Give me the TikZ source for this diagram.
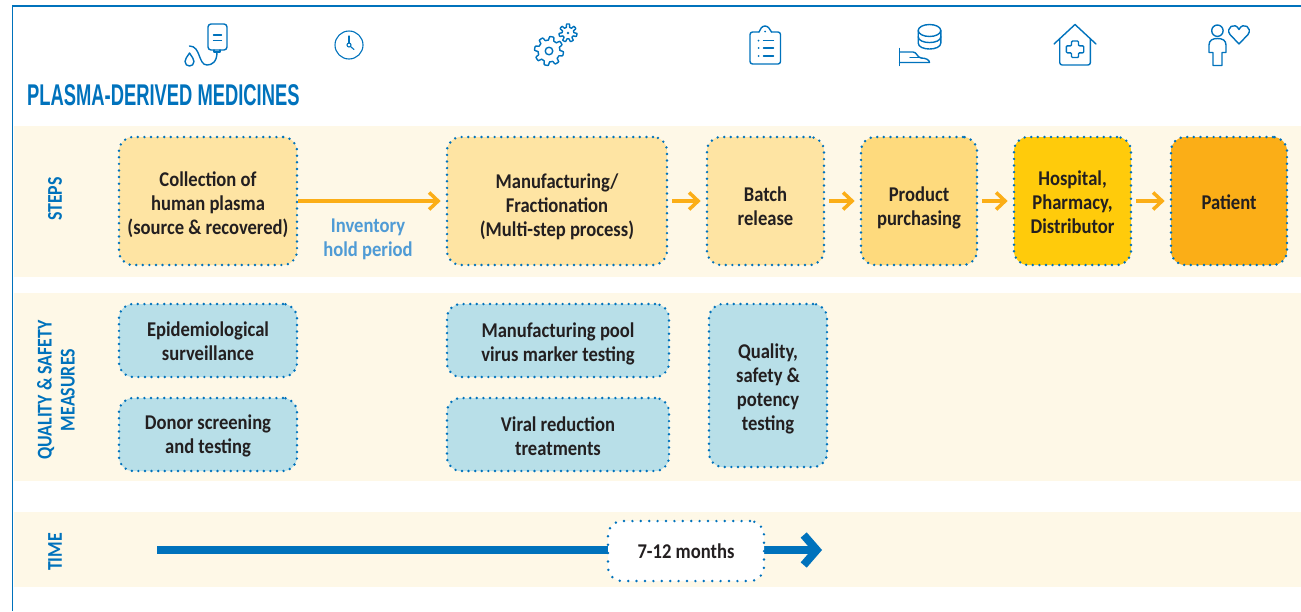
\documentclass[tikz,border=0pt]{standalone}
\usepackage{fontspec}
\setmainfont[FakeStretch=0.885]{Carlito}
\newfontfamily\titlefont[FakeStretch=0.612]{Liberation Sans}
\newfontfamily\sidefont[FakeStretch=0.85]{Carlito}
\usetikzlibrary{arrows.meta,positioning}
\definecolor{bandcol}{HTML}{FEF8E7}
\definecolor{linecol}{HTML}{0072BC}
\definecolor{textcol}{HTML}{231F20}
\definecolor{holdcol}{HTML}{4F9BD5}
\definecolor{flowcol}{HTML}{FBAE17}
\definecolor{palecol}{HTML}{FEE4A3}
\definecolor{midcol}{HTML}{FEDA7D}
\definecolor{goldcol}{HTML}{FFCB0B}
\definecolor{qualcol}{HTML}{B8DFE8}
\newcommand{\textdrop}[1]{\rule{0pt}{\numexpr14+2*#1\relax pt}}

\begin{document}
\begin{tikzpicture}[x=1pt,y=-1pt,
    dotbox/.style={draw=linecol, line width=2.7pt, dash pattern=on 0pt off 6.6pt, line cap=round,
        rounded corners=14pt, align=center, text=textcol, inner sep=0pt,
        font=\bfseries\fontsize{21}{24}\selectfont},
    stepbox/.style={dotbox, minimum height=128pt},
    qualbox/.style={dotbox, fill=qualcol},
    flowline/.style={draw=flowcol, line width=3.5pt, -{Straight Barb[length=9pt,width=17pt]}, shorten >=5pt, shorten <=4pt},
    sidelabel/.style={rotate=90, text=linecol, align=center, font=\sidefont\bfseries\fontsize{21}{23}\selectfont},
    icon/.style={draw=linecol, line width=1.4pt, line join=round, line cap=round}]
    \useasboundingbox (0,0) rectangle (1301,611);

    % Frame
    \draw[linecol, line width=1.4pt] (12.5,611) -- (12.5,6) -- (1301,6);

    % Bands
    \fill[bandcol] (13.5,126) rectangle (1301,277);
    \fill[bandcol] (13.5,293) rectangle (1301,481);
    \fill[bandcol] (13.5,512) rectangle (1301,587);

    % Title
    \node[anchor=base west, inner sep=0pt, text=linecol, font=\titlefont\bfseries\fontsize{30}{32}\selectfont] (title) at (27,105.5) {PLASMA-DERIVED MEDICINES};

    % Side labels
    \node[sidelabel] (steps) at (55,199) {STEPS};
    \node[sidelabel] (measures) at (56,390) {QUALITY \& SAFETY\\MEASURES};
    \node[sidelabel] (timelabel) at (55,552) {TIME};

    % Steps
    \node[stepbox, fill=palecol, minimum width=178pt] (collect) at (208,201) {\textdrop{4}Collection of\\human plasma\\(source \& recovered)};
    \node[stepbox, fill=palecol, minimum width=220pt] (manuf) at (557,201) {\textdrop{6}Manufacturing/\\Fractionation\\(Multi-step process)};
    \node[stepbox, fill=palecol, minimum width=117pt] (batch) at (765.5,201) {\textdrop{6}Batch\\release};
    \node[stepbox, fill=midcol, minimum width=116pt] (purchase) at (919,201) {\textdrop{7}Product\\purchasing};
    \node[stepbox, fill=goldcol, minimum width=117pt] (hospital) at (1072.5,201) {\textdrop{2}Hospital,\\Pharmacy,\\Distributor};
    \node[stepbox, fill=flowcol, minimum width=116pt] (patient) at (1229,201) {\textdrop{2}Patient};

    \draw[flowline, shorten <=0pt] (collect) -- (manuf);
    \draw[flowline] (manuf) -- (batch);
    \draw[flowline] (batch) -- (purchase);
    \draw[flowline] (purchase) -- (hospital);
    \draw[flowline] (hospital) -- (patient);

    \node[text=holdcol, align=center, inner sep=0pt, font=\bfseries\fontsize{21}{24}\selectfont] (hold) at (368,239) {Inventory\\hold period};

    % Quality and safety
    \node[qualbox, minimum width=178pt, minimum height=73pt] (epi) at (208,340.5) {\textdrop{1}Epidemiological\\surveillance};
    \node[qualbox, minimum width=178pt, minimum height=73pt] (donor) at (208,434.5) {\textdrop{2}Donor screening\\and testing};
    \node[qualbox, minimum width=222pt, minimum height=73pt] (pool) at (558,340.5) {\textdrop{4}Manufacturing pool\\virus marker testing};
    \node[qualbox, minimum width=222pt, minimum height=73pt] (viral) at (558,434.5) {\textdrop{2}Viral reduction\\treatments};
    \node[qualbox, minimum width=118pt, minimum height=163pt] (quality) at (768,385.5) {\textdrop{4}Quality,\\safety \&\\potency\\testing};

    % Time
    \coordinate (timestart) at (157,550);
    \coordinate (timeend) at (822,550);
    \draw[linecol, line width=8pt, -{Straight Barb[length=13pt,width=30pt]}] (timestart) -- (timeend);
    \node[dotbox, dash pattern=on 0pt off 8.4pt, fill=white, minimum width=156pt, minimum height=60pt] (months) at (686,551) {\textdrop{1}7-12 months};

    % Icons
    % Plasma bag
    \draw[icon, rounded corners=3pt] (208,24) rectangle (227,50);
    \draw[icon] (214,50) -- (214,52) -- (220,52) -- (220,50);
    \draw[icon] (213.5,35) -- (221.5,35) (213.5,40.5) -- (221.5,40.5);
    \draw[icon] (217,52) .. controls (217,62) and (212,65) .. (207,65) .. controls (198,65) and (201,46) .. (189.5,46);
    \draw[icon] (189.5,53) .. controls (187,57) and (185,59) .. (185,61.5) .. controls (185,67.5) and (194,67.5) .. (194,61.5) .. controls (194,59) and (192,57) .. (189.5,53) -- cycle;

    % Clock
    \draw[icon, line width=1.1pt] (349,45) circle (14);
    \draw[icon, line width=1.1pt] (349,36) -- (349,43);
    \draw[icon, line width=1.1pt] (349,45) circle (2);
    \draw[icon, line width=1.1pt] (350.5,46.5) -- (354,49.5);

    % Gears
    \draw[icon] plot[domain=0:360, samples=121] ({549+(12.7+1.8*max(min(3*sin(8*\x),1),-1))*cos(\x)}, {51+(12.7+1.8*max(min(3*sin(8*\x),1),-1))*sin(\x)}) -- cycle;
    \draw[icon] (549,51) circle (3.8);
    \draw[icon] plot[domain=0:360, samples=121] ({568+(7.4+1.6*max(min(3*sin(7*\x),1),-1))*cos(\x)}, {33+(7.4+1.6*max(min(3*sin(7*\x),1),-1))*sin(\x)}) -- cycle;
    \fill[linecol] (568,33) circle (1.3);

    % Clipboard
    \draw[icon, rounded corners=2.5pt] (759,32) -- (750,32) -- (750,64) -- (780.5,64) -- (780.5,32) -- (771.5,32);
    \draw[icon] (759,32) .. controls (760,29) and (762,26) .. (765,26) .. controls (768,26) and (770,29) .. (771.5,32);
    \fill[linecol] (765,31.5) circle (1);
    \foreach \y in {40.7,48,56} {
        \fill[linecol] (758.5,\y) circle (1);
        \draw[icon] (763.5,\y) -- (773.5,\y);
    }

    % Hand with database
    \draw[icon] (929.5,30.5) ellipse (11.3 and 6);
    \draw[icon] (918.2,30.5) -- (918.2,43) .. controls (918.2,51) and (940.8,51) .. (940.8,43) -- (940.8,30.5);
    \draw[icon] (918.2,36.7) .. controls (918.2,44.5) and (940.8,44.5) .. (940.8,36.7);
    \draw[icon] (899.5,48.5) -- (899.5,65.5);
    \draw[icon] (899.5,52) -- (913,52) .. controls (917,52) and (917,57.5) .. (921,58) .. controls (926,58) and (929.5,60) .. (929.5,62.5) -- (899.5,62.5);
    \draw[icon] (910,57.3) -- (921,57.3);

    % Hospital
    \draw[icon] (1054,44) -- (1075,24.5) -- (1096,44);
    \draw[icon, rounded corners=2.5pt] (1059.7,39) -- (1059.7,65) -- (1090.4,65) -- (1090.4,39);
    \draw[icon, rounded corners=1pt] (1071.5,41) -- (1078.5,41) -- (1078.5,45.8) -- (1083.7,45.8) -- (1083.7,52.8) -- (1078.5,52.8) -- (1078.5,57.5) -- (1071.5,57.5) -- (1071.5,52.8) -- (1066.3,52.8) -- (1066.3,45.8) -- (1071.5,45.8) -- cycle;

    % Patient and heart
    \draw[icon] (1217.4,30.7) circle (5.7);
    \draw[icon] (1213,65.5) -- (1222,65.5) -- (1222,52.5) -- (1226,52.5) -- (1226,45) .. controls (1226,40) and (1222,38.5) .. (1217.5,38.5) .. controls (1213,38.5) and (1209,40) .. (1209,45) -- (1209,52.5) -- (1213,52.5) -- cycle;
    \draw[icon] (1239,44) -- (1230,34.5) .. controls (1225,28) and (1235,21) .. (1239,29.5) .. controls (1243,21) and (1253,28) .. (1248,34.5) -- cycle;
\end{tikzpicture}
\end{document}
